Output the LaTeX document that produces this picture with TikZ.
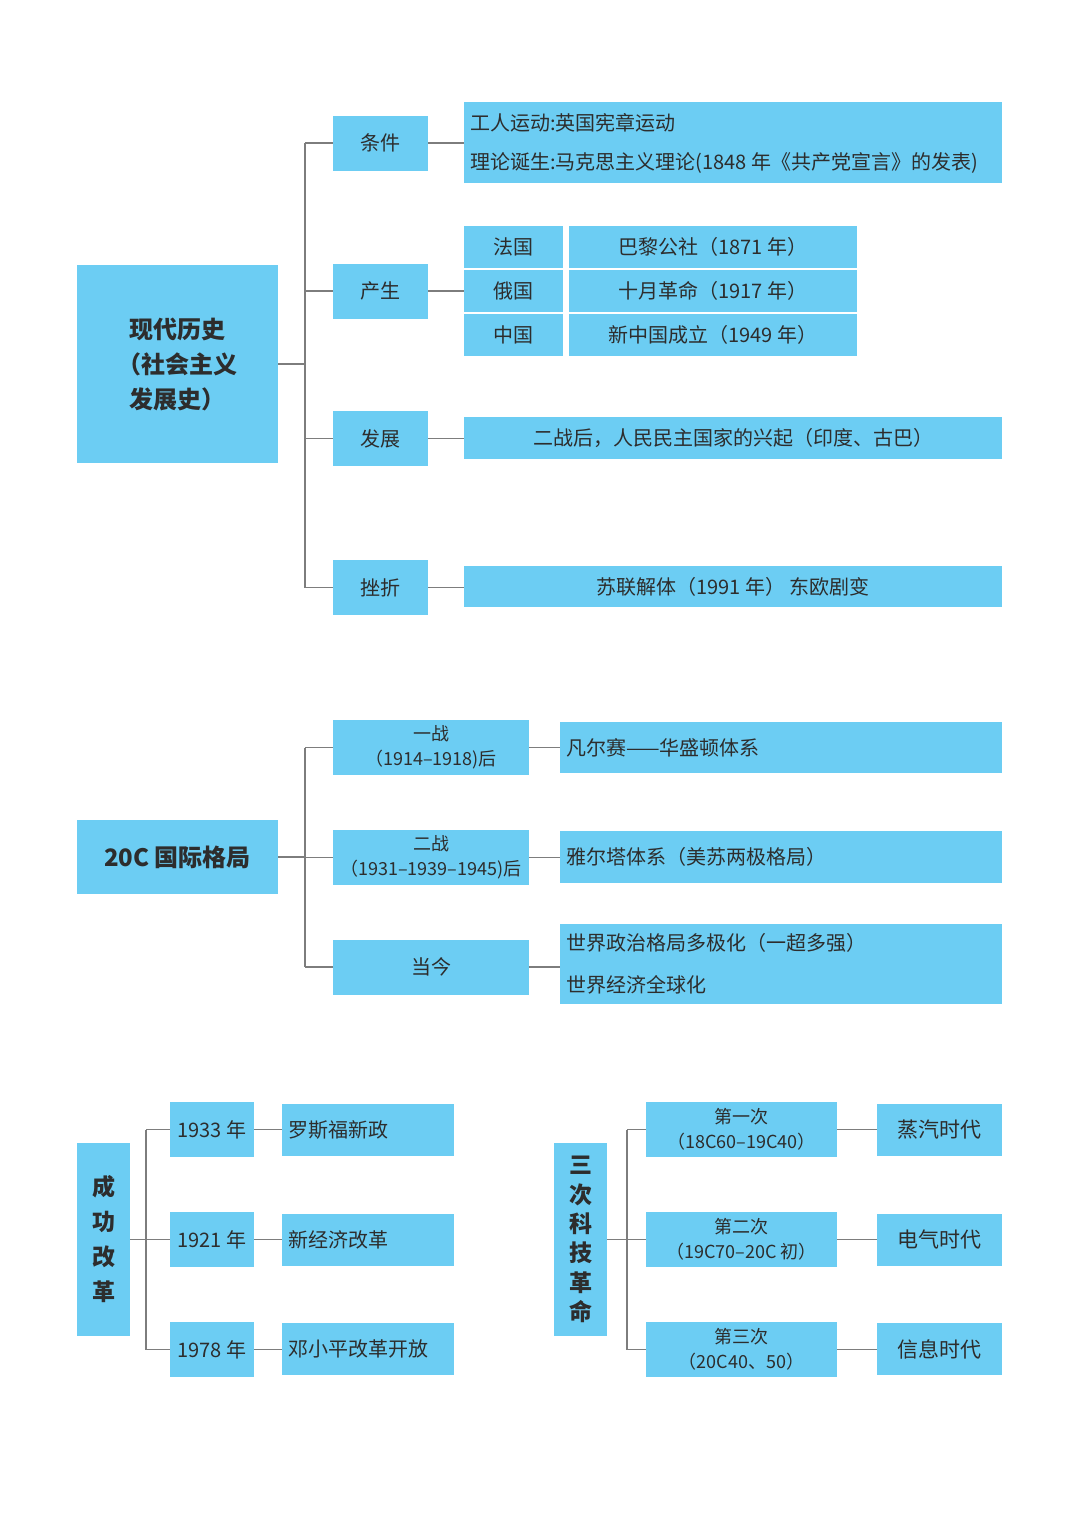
\documentclass[tikz,border=0pt]{standalone}
\usepackage{fontspec}
\setmainfont{Noto Sans CJK SC}
\definecolor{boxblue}{RGB}{108,205,243}
\definecolor{txt}{RGB}{45,45,45}
\definecolor{linegray}{RGB}{125,125,125}
\begin{document}
\begin{tikzpicture}[x=1pt,y=-1pt,
  box/.style={fill=boxblue, draw=none, inner sep=0pt, text=txt, align=center, font=\fontsize{20}{24}\selectfont},
  rootbox/.style={box, font=\fontsize{24}{35}\selectfont\bfseries},
  small/.style={box, font=\fontsize{18}{25}\selectfont},
  label/.style={inner sep=0pt, text=txt, anchor=west, font=\fontsize{20}{24}\selectfont},
  conn/.style={draw=linegray, line width=1.3pt},
]
\useasboundingbox[fill=white] (0,0) rectangle (1080,1527);

%% ---------------- Section 1 ----------------
\node[rootbox, minimum width=201pt, minimum height=198pt] (r1) at (177.5,364) {现代历史\\（社会主义\\发展史）};
\node[box, minimum width=95pt, minimum height=55pt] (c1) at (380.5,143) {条件};
\node[box, minimum width=95pt, minimum height=55pt] (c2) at (380.5,291) {产生};
\node[box, minimum width=95pt, minimum height=55pt] (c3) at (380.5,438.5) {发展};
\node[box, minimum width=95pt, minimum height=55pt] (c4) at (380.5,587.5) {挫折};

\node[box, minimum width=538pt, minimum height=81pt] (d1) at (733,142.5) {};
\node[label] (d1a) at (470,123) {工人运动:英国宪章运动};
\node[label] (d1b) at (470,163) {理论诞生:马克思主义理论(1848 年《共产党宣言》的发表)};

\node[box, minimum width=99pt, minimum height=42.5pt] (p1) at (513.5,247) {法国};
\node[box, minimum width=99pt, minimum height=42.5pt] (p2) at (513.5,291) {俄国};
\node[box, minimum width=99pt, minimum height=42.5pt] (p3) at (513.5,335) {中国};
\node[box, minimum width=288pt, minimum height=42.5pt] (q1) at (713,247) {巴黎公社（1871 年）};
\node[box, minimum width=288pt, minimum height=42.5pt] (q2) at (713,291) {十月革命（1917 年）};
\node[box, minimum width=288pt, minimum height=42.5pt] (q3) at (713,335) {新中国成立（1949 年）};

\node[box, minimum width=538pt, minimum height=42pt] (d3) at (733,438) {二战后，人民民主国家的兴起（印度、古巴）};
\node[box, minimum width=538pt, minimum height=41pt] (d4) at (733,586.5) {苏联解体（1991 年） 东欧剧变};

\coordinate (t1) at (305,364);
\draw[conn] (r1.east) -- (t1);
\draw[conn] (t1 |- c1.west) -- (t1 |- c4.west);
\foreach \n in {c1,c2,c3,c4} \draw[conn] (t1 |- \n.west) -- (\n.west);
\draw[conn] (c1.east) -- (c1.east -| d1.west);
\draw[conn] (c2.east) -- (p2.west);
\draw[conn] (c3.east) -- (c3.east -| d3.west);
\draw[conn] (c4.east) -- (c4.east -| d4.west);

%% ---------------- Section 2 ----------------
\node[rootbox, minimum width=201pt, minimum height=74pt] (r2) at (177.5,857) {20C 国际格局};
\node[small, minimum width=196pt, minimum height=55pt] (e1) at (431,747.5) {一战\\（1914–1918)后};
\node[small, minimum width=196pt, minimum height=55pt] (e2) at (431,857.5) {二战\\（1931–1939–1945)后};
\node[box, minimum width=196pt, minimum height=55pt] (e3) at (431,967) {当今};

\node[box, minimum width=442pt, minimum height=51pt, text width=430pt, align=left] (f1) at (781,747.5) {凡尔赛——华盛顿体系};
\node[box, minimum width=442pt, minimum height=52pt, text width=430pt, align=left] (f2) at (781,857) {雅尔塔体系（美苏两极格局）};
\node[box, minimum width=442pt, minimum height=80pt, text width=430pt, align=left, font=\fontsize{20}{42}\selectfont] (f3) at (781,964) {世界政治格局多极化（一超多强）\\世界经济全球化};

\coordinate (t2) at (305,857);
\draw[conn] (r2.east) -- (t2);
\draw[conn] (t2 |- e1.west) -- (t2 |- e3.west);
\foreach \n in {e1,e2,e3} \draw[conn] (t2 |- \n.west) -- (\n.west);
\draw[conn] (e1.east) -- (e1.east -| f1.west);
\draw[conn] (e2.east) -- (e2.east -| f2.west);
\draw[conn] (e3.east) -- (e3.east -| f3.west);

%% ---------------- Section 3 left ----------------
\node[rootbox, minimum width=53pt, minimum height=193pt, font=\fontsize{23}{35}\selectfont\bfseries] (g0) at (103.5,1239.5) {成\\功\\改\\革};
\node[box, minimum width=84pt, minimum height=55pt] (g1) at (212,1129.5) {1933 年};
\node[box, minimum width=84pt, minimum height=55pt] (g2) at (212,1239.5) {1921 年};
\node[box, minimum width=84pt, minimum height=55pt] (g3) at (212,1349.5) {1978 年};
\node[box, minimum width=172pt, minimum height=52pt, text width=160pt, align=left] (h1) at (368,1130) {罗斯福新政};
\node[box, minimum width=172pt, minimum height=52pt, text width=160pt, align=left] (h2) at (368,1240) {新经济改革};
\node[box, minimum width=172pt, minimum height=52pt, text width=160pt, align=left] (h3) at (368,1349) {邓小平改革开放};

\coordinate (t3) at (146,1239.5);
\draw[conn] (g0.east) -- (t3);
\draw[conn] (t3 |- g1.west) -- (t3 |- g3.west);
\foreach \n in {g1,g2,g3} \draw[conn] (t3 |- \n.west) -- (\n.west);
\draw[conn] (g1.east) -- (g1.east -| h1.west);
\draw[conn] (g2.east) -- (g2.east -| h2.west);
\draw[conn] (g3.east) -- (g3.east -| h3.west);

%% ---------------- Section 3 right ----------------
\node[rootbox, minimum width=53pt, minimum height=193pt, font=\fontsize{23}{29.4}\selectfont\bfseries] (k0) at (580.5,1239.5) {三\\次\\科\\技\\革\\命};
\node[small, minimum width=191pt, minimum height=55pt] (k1) at (741.5,1129.5) {第一次\\（18C60–19C40）};
\node[small, minimum width=191pt, minimum height=55pt] (k2) at (741.5,1239.5) {第二次\\（19C70–20C 初）};
\node[small, minimum width=191pt, minimum height=55pt] (k3) at (741.5,1349.5) {第三次\\（20C40、50）};
\node[box, minimum width=125pt, minimum height=52pt, font=\fontsize{21}{24}\selectfont] (m1) at (939.5,1130) {蒸汽时代};
\node[box, minimum width=125pt, minimum height=52pt, font=\fontsize{21}{24}\selectfont] (m2) at (939.5,1240) {电气时代};
\node[box, minimum width=125pt, minimum height=52pt, font=\fontsize{21}{24}\selectfont] (m3) at (939.5,1349) {信息时代};

\coordinate (t4) at (627,1239.5);
\draw[conn] (k0.east) -- (t4);
\draw[conn] (t4 |- k1.west) -- (t4 |- k3.west);
\foreach \n in {k1,k2,k3} \draw[conn] (t4 |- \n.west) -- (\n.west);
\draw[conn] (k1.east) -- (k1.east -| m1.west);
\draw[conn] (k2.east) -- (k2.east -| m2.west);
\draw[conn] (k3.east) -- (k3.east -| m3.west);
\end{tikzpicture}
\end{document}
